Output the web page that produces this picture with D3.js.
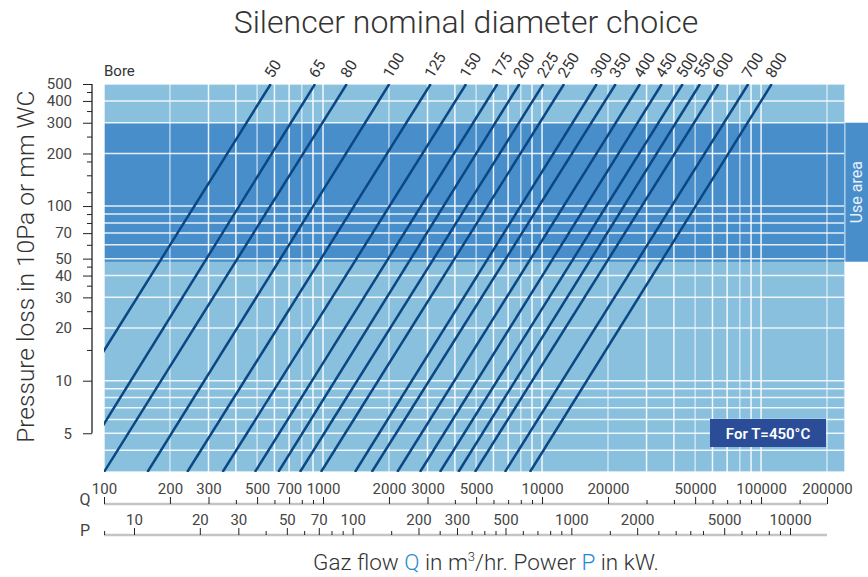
<!DOCTYPE html>
<html>
<head>
<meta charset="utf-8">
<script src="https://cdn.jsdelivr.net/npm/d3@7"></script>
<style>
body { margin: 0; background: #fff; }
text { font-family: Roboto, "DejaVu Sans", sans-serif; }
</style>
</head>
<body>
<div id="chart"></div>
<script>
// bore (mm) and where its line enters at the top (P = 500) and leaves at the bottom (P = 3)
var bores = [50, 65, 80, 100, 125, 150, 175, 200, 225, 250, 300, 350, 400, 450, 500, 550, 600, 700, 800];
var qAtTop = [577, 919, 1283, 2007, 3100, 4500, 6250, 7880, 10130, 12600, 17770, 21690, 28000, 35200, 43860, 52600, 63800, 87400, 111800];
var qAtBottom = [45, 73, 100, 158, 240, 348, 489, 625, 785, 979, 1400, 1670, 2184, 2773, 3420, 4150, 4940, 6770, 8810];

var pressureLabels = [5, 10, 20, 30, 40, 50, 70, 100, 200, 300, 400, 500];
var pressureMinor = [15, 25, 35, 45, 60, 80, 90, 120, 150, 180, 250, 350, 450];
var flowLabels = [100, 200, 300, 500, 700, 1000, 2000, 3000, 5000, 10000, 20000, 50000, 100000, 200000];
var flowMinor = [400, 600, 800, 900, 4000, 6000, 7000, 8000, 9000, 30000, 40000, 60000, 70000, 80000, 90000, 150000];
var powerLabels = [10, 20, 30, 50, 70, 100, 200, 300, 500, 1000, 2000, 5000, 10000];
var powerMinor = [7.3, 40, 60, 80, 90, 150, 250, 350, 400, 450, 600, 700, 800, 900, 1500, 2500, 3000, 3500, 4000, 6000, 7000, 8000, 9000];
var useArea = [48, 300];

var width = 868,
    height = 577;

var qMax = 240000;
var x = d3.scaleLog().domain([100, 200000]).range([104, 827]);
var y = d3.scaleLog().domain([3, 500]).range([472, 84]);
var xp = d3.scaleLog().domain([10, 10000]).range([134, 790]);

var lightBlue = "#89c0de",
    darkBlue = "#488eca",
    lineBlue = "#0b4784";

var svg = d3.select("#chart")
    .append("svg")
    .attr("width", width)
    .attr("height", height);

var plotLeft = x(100), plotRight = x(qMax), plotTop = y(500), plotBottom = y(3);

svg.append("defs").append("clipPath")
    .attr("id", "plot-clip")
    .append("rect")
    .attr("x", plotLeft).attr("y", plotTop)
    .attr("width", plotRight - plotLeft).attr("height", plotBottom - plotTop);

// background + use area band
svg.append("rect")
    .attr("x", plotLeft).attr("y", plotTop)
    .attr("width", plotRight - plotLeft).attr("height", plotBottom - plotTop)
    .attr("fill", lightBlue);

svg.append("rect")
    .attr("x", plotLeft).attr("y", y(useArea[1]))
    .attr("width", plotRight - plotLeft).attr("height", y(useArea[0]) - y(useArea[1]))
    .attr("fill", darkBlue);

// grid
var grid = svg.append("g").attr("clip-path", "url(#plot-clip)");
grid.selectAll("line.v")
    .data(x.ticks())
    .enter().append("line")
    .attr("class", "v")
    .attr("x1", function (d) { return x(d); })
    .attr("x2", function (d) { return x(d); })
    .attr("y1", plotTop).attr("y2", plotBottom)
    .attr("stroke", "#fff")
    .attr("stroke-opacity", function (d, i) { return i % 3 == 1 ? 0.6 : 0.9; })
    .attr("stroke-width", 1.5);

grid.selectAll("line.h")
    .data(y.ticks())
    .enter().append("line")
    .attr("class", "h")
    .attr("x1", plotLeft).attr("x2", plotRight)
    .attr("y1", function (d) { return y(d); })
    .attr("y2", function (d) { return y(d); })
    .attr("stroke", "#fff")
    .attr("stroke-opacity", 0.85)
    .attr("stroke-width", 1.5);

// bore lines
var boreData = bores.map(function (b, i) {
    return { bore: b, top: qAtTop[i], bottom: qAtBottom[i] };
});

grid.selectAll("line.bore")
    .data(boreData)
    .enter().append("line")
    .attr("class", "bore")
    .attr("x1", function (d) { return x(d.bottom); })
    .attr("y1", y(3))
    .attr("x2", function (d) { return x(d.top); })
    .attr("y2", y(500))
    .attr("stroke", lineBlue)
    .attr("stroke-width", 2.5);

svg.selectAll("text.bore")
    .data(boreData)
    .enter().append("text")
    .attr("class", "bore")
    .attr("transform", function (d) {
        return "translate(" + (x(d.top) + 2) + "," + (plotTop - 5) + ") rotate(-58)";
    })
    .attr("font-size", 15.5)
    .attr("fill", "#333")
    .text(function (d) { return d.bore; });

svg.append("text")
    .attr("x", plotLeft).attr("y", plotTop - 8)
    .attr("font-size", 15)
    .attr("fill", "#333")
    .text("Bore");

// y axis
var yAxisX = 92;
var yAxisG = svg.append("g").attr("transform", "translate(" + yAxisX + ",0)");
yAxisG.append("g")
    .call(d3.axisLeft(y).tickValues(pressureMinor).tickSize(5).tickFormat(""));
yAxisG.append("g")
    .call(d3.axisLeft(y).tickValues(pressureLabels).tickSize(9).tickPadding(11).tickFormat(d3.format("d")));
yAxisG.selectAll(".domain").remove();
yAxisG.append("line")
    .attr("y1", y(5)).attr("y2", y(500))
    .attr("stroke", "#222").attr("stroke-width", 1.3);
yAxisG.selectAll("line").attr("stroke", "#222");
yAxisG.selectAll("text")
    .attr("font-size", 15)
    .attr("font-family", "Roboto, sans-serif")
    .attr("fill", "#444");

// Q axis
var qAxisY = 504;
var qAxisG = svg.append("g").attr("transform", "translate(0," + qAxisY + ")");
qAxisG.append("line")
    .attr("x1", x(100)).attr("x2", x(200000))
    .attr("stroke", "#c4c4c4").attr("stroke-width", 2.5);
qAxisG.append("g")
    .call(d3.axisTop(x).tickValues(flowMinor).tickSize(4).tickFormat(""));
qAxisG.append("g")
    .call(d3.axisTop(x).tickValues(flowLabels).tickSize(7).tickPadding(3).tickFormat(d3.format("d")));
qAxisG.selectAll(".domain").remove();

// P axis
var pAxisY = 535;
var pAxisG = svg.append("g").attr("transform", "translate(0," + pAxisY + ")");
pAxisG.append("line")
    .attr("x1", x(100)).attr("x2", x(200000))
    .attr("stroke", "#c4c4c4").attr("stroke-width", 2.5);
pAxisG.append("g")
    .call(d3.axisTop(xp).tickValues(powerMinor).tickSize(4).tickFormat(""));
pAxisG.append("g")
    .call(d3.axisTop(xp).tickValues(powerLabels).tickSize(7).tickPadding(3).tickFormat(d3.format("d")));
pAxisG.selectAll(".domain").remove();

svg.selectAll(".tick line").attr("stroke", "#222");
[qAxisG, pAxisG].forEach(function (g) {
    g.selectAll("text")
        .attr("font-size", 15)
        .attr("font-family", "Roboto, sans-serif")
        .attr("fill", "#444");
});

svg.append("text")
    .attr("x", 85).attr("y", qAxisY + 1)
    .attr("text-anchor", "middle")
    .attr("font-size", 16).attr("fill", "#444")
    .text("Q");
svg.append("text")
    .attr("x", 85).attr("y", pAxisY + 1)
    .attr("text-anchor", "middle")
    .attr("font-size", 16).attr("fill", "#444")
    .text("P");

// titles
svg.append("text")
    .attr("x", 466).attr("y", 33)
    .attr("text-anchor", "middle")
    .attr("font-size", 32)
    .attr("font-weight", 300)
    .attr("fill", "#333")
    .text("Silencer nominal diameter choice");

svg.append("text")
    .attr("transform", "translate(34," + ((y(5) + plotTop) / 2 + 8) + ") rotate(-90)")
    .attr("text-anchor", "middle")
    .attr("font-size", 24.5)
    .attr("font-weight", 300)
    .attr("fill", "#333")
    .text("Pressure loss in 10Pa or mm WC");

var xTitle = svg.append("text")
    .attr("x", 486).attr("y", 570)
    .attr("text-anchor", "middle")
    .attr("font-size", 22.5)
    .attr("font-weight", 300)
    .attr("fill", "#333");
xTitle.append("tspan").text("Gaz flow ");
xTitle.append("tspan").attr("fill", "#1c8ad6").text("Q");
xTitle.append("tspan").text(" in m");
xTitle.append("tspan").attr("font-size", 13).attr("dy", -9).text("3");
xTitle.append("tspan").attr("dy", 9).text("/hr. Power ");
xTitle.append("tspan").attr("fill", "#1c8ad6").text("P");
xTitle.append("tspan").text(" in kW.");

// use area tab
svg.append("rect")
    .attr("x", plotRight + 1).attr("y", y(useArea[1]))
    .attr("width", width - plotRight - 1).attr("height", y(useArea[0]) - y(useArea[1]))
    .attr("fill", darkBlue);
svg.append("text")
    .attr("transform", "translate(" + (plotRight + 18) + "," + ((y(useArea[0]) + y(useArea[1])) / 2) + ") rotate(-90)")
    .attr("text-anchor", "middle")
    .attr("font-size", 16)
    .attr("fill", "#e8f1fa")
    .text("Use area");

// temperature note
var note = svg.append("g").attr("transform", "translate(710,419)");
note.append("rect")
    .attr("width", 116).attr("height", 28)
    .attr("fill", "#2b4c97");
note.append("text")
    .attr("x", 58).attr("y", 19.5)
    .attr("text-anchor", "middle")
    .attr("font-size", 15)
    .attr("font-weight", 600)
    .attr("fill", "#fff")
    .text("For T=450°C");
</script>
</body>
</html>
